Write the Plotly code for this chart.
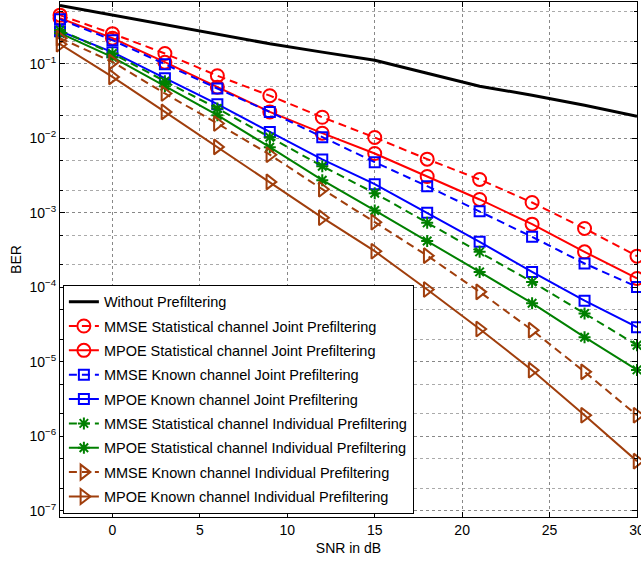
import plotly.graph_objects as go

snr = [-3, 0, 3, 6, 9, 12, 15, 18, 21, 24, 27, 30]

ber_without = [0.604, 0.448, 0.329, 0.249, 0.185, 0.143, 0.111, 0.0745, 0.0499, 0.0377, 0.0277, 0.0197]
ber_mmse_stat_joint = [0.448, 0.253, 0.137, 0.0690, 0.0372, 0.0191, 0.01022, 0.00523, 0.00279, 0.00137, 0.000614, 0.000261]
ber_mpoe_stat_joint = [0.408, 0.220, 0.1047, 0.0484, 0.02254, 0.01167, 0.00623, 0.00306, 0.001504, 0.000701, 0.000298, 0.0001309]
ber_mmse_known_joint = [0.3956, 0.2067, 0.0985, 0.04647, 0.02254, 0.01031, 0.004763, 0.002268, 0.001047, 0.0004734, 0.000208, 0.0001009]
ber_mpoe_known_joint = [0.2731, 0.1427, 0.0639, 0.0286, 0.01215, 0.005179, 0.002413, 0.000994, 0.0004056, 0.0001604, 0.0000659, 0.000029]
ber_mmse_stat_ind = [0.2817, 0.137, 0.0582, 0.02505, 0.01031, 0.00421, 0.001827, 0.00073, 0.000298, 0.0001178, 0.0000444, 0.00001665]
ber_mpoe_stat_ind = [0.2567, 0.1223, 0.0499, 0.02036, 0.00757, 0.00273, 0.00107, 0.000417, 0.0001604, 0.000061, 0.0000213, 0.00000776]
ber_mmse_known_ind = [0.220, 0.1057, 0.0398, 0.01575, 0.006004, 0.002067, 0.000746, 0.000265, 0.0000865, 0.0000265, 0.0000073, 0.00000191]
ber_mpoe_known_ind = [0.1827, 0.0665, 0.02254, 0.00764, 0.002591, 0.000857, 0.000304, 0.0000931, 0.0000275, 0.00000769, 0.00000191, 0.000000462]

y_tick_vals = [1e-7, 1e-6, 1e-5, 1e-4, 1e-3, 1e-2, 1e-1]
y_tick_text = ["10<sup>−7</sup>", "10<sup>−6</sup>", "10<sup>−5</sup>", "10<sup>−4</sup>",
               "10<sup>−3</sup>", "10<sup>−2</sup>", "10<sup>−1</sup>"]
x_tick_vals = [0, 5, 10, 15, 20, 25, 30]

names = [
    "Without Prefiltering",
    "MMSE Statistical channel Joint Prefiltering",
    "MPOE Statistical channel Joint Prefiltering",
    "MMSE Known channel Joint Prefiltering",
    "MPOE Known channel Joint Prefiltering",
    "MMSE Statistical channel Individual Prefiltering",
    "MPOE Statistical channel Individual Prefiltering",
    "MMSE Known channel Individual Prefiltering",
    "MPOE Known channel Individual Prefiltering",
]
series = [ber_without, ber_mmse_stat_joint, ber_mpoe_stat_joint, ber_mmse_known_joint,
          ber_mpoe_known_joint, ber_mmse_stat_ind, ber_mpoe_stat_ind, ber_mmse_known_ind,
          ber_mpoe_known_ind]

RED = "#ff0000"
BLUE = "#0000ff"
GREEN = "#008000"
BROWN = "rgb(160,62,12)"
DASH = "8px,5px"
styles = [
    dict(color="black", dash="solid", symbol=None, size=0, width=3),
    dict(color=RED, dash=DASH, symbol="circle-open", size=13, width=2),
    dict(color=RED, dash="solid", symbol="circle-open", size=13, width=2),
    dict(color=BLUE, dash=DASH, symbol="square-open", size=10, width=2),
    dict(color=BLUE, dash="solid", symbol="square-open", size=10, width=2),
    dict(color=GREEN, dash=DASH, symbol="asterisk-open", size=10, width=2),
    dict(color=GREEN, dash="solid", symbol="asterisk-open", size=10, width=2),
    dict(color=BROWN, dash=DASH, symbol="triangle-right-open", size=13, width=2),
    dict(color=BROWN, dash="solid", symbol="triangle-right-open", size=13, width=2),
]

fig = go.Figure()
for i, (nm, ys, st) in enumerate(zip(names, series, styles)):
    if st["symbol"] is None:
        mode = "lines"
        marker = None
    else:
        mode = "lines+markers"
        marker = dict(symbol=st["symbol"], size=st["size"], color=st["color"],
                      line=dict(color=st["color"], width=2))
    fig.add_trace(go.Scatter(
        x=snr, y=ys, name=nm, mode=mode, legendgroup=f"g{i}",
        line=dict(color=st["color"], dash=st["dash"], width=st["width"]),
        marker=marker, cliponaxis=False,
    ))

FONT = "Liberation Sans, Arial, sans-serif"
fig.update_layout(
    width=641, height=562,
    margin=dict(l=60, r=4, t=2, b=45),
    paper_bgcolor="white", plot_bgcolor="white",
    font=dict(family=FONT, size=13, color="black"),
    showlegend=True,
    legend=dict(
        x=0.005, y=0.451, xanchor="left", yanchor="top",
        bgcolor="white", bordercolor="black", borderwidth=1,
        font=dict(family=FONT, size=14.5, color="black"),
        tracegroupgap=2.5, itemwidth=30,
    ),
)
fig.update_xaxes(
    range=[-3, 30], tickvals=x_tick_vals, automargin=False,
    ticklabeloverflow="allow",
    showline=True, linecolor="black", linewidth=1, mirror="allticks",
    ticks="inside", ticklen=5, tickcolor="black",
    showgrid=True, gridcolor="#888888", griddash="dot", gridwidth=1,
    zeroline=False,
    title=dict(text="SNR in dB", font=dict(family=FONT, size=14), standoff=6),
    tickfont=dict(family=FONT, size=14),
)
fig.update_yaxes(
    type="log", range=[-7.085, -0.172], automargin=False,
    tickvals=y_tick_vals, ticktext=y_tick_text,
    showline=True, linecolor="black", linewidth=1, mirror="allticks",
    ticks="inside", ticklen=5, tickcolor="black",
    showgrid=True, gridcolor="#888888", griddash="dot", gridwidth=1,
    minor=dict(ticks="inside", ticklen=3, tickcolor="black", showgrid=True,
               gridcolor="#aaaaaa", griddash="dot", gridwidth=1),
    zeroline=False,
    title=dict(text="BER", font=dict(family=FONT, size=14), standoff=4),
    tickfont=dict(family=FONT, size=14),
)

fig.write_html("out.html", config={"displayModeBar": False},
               post_script="document.body.style.margin='0';")
